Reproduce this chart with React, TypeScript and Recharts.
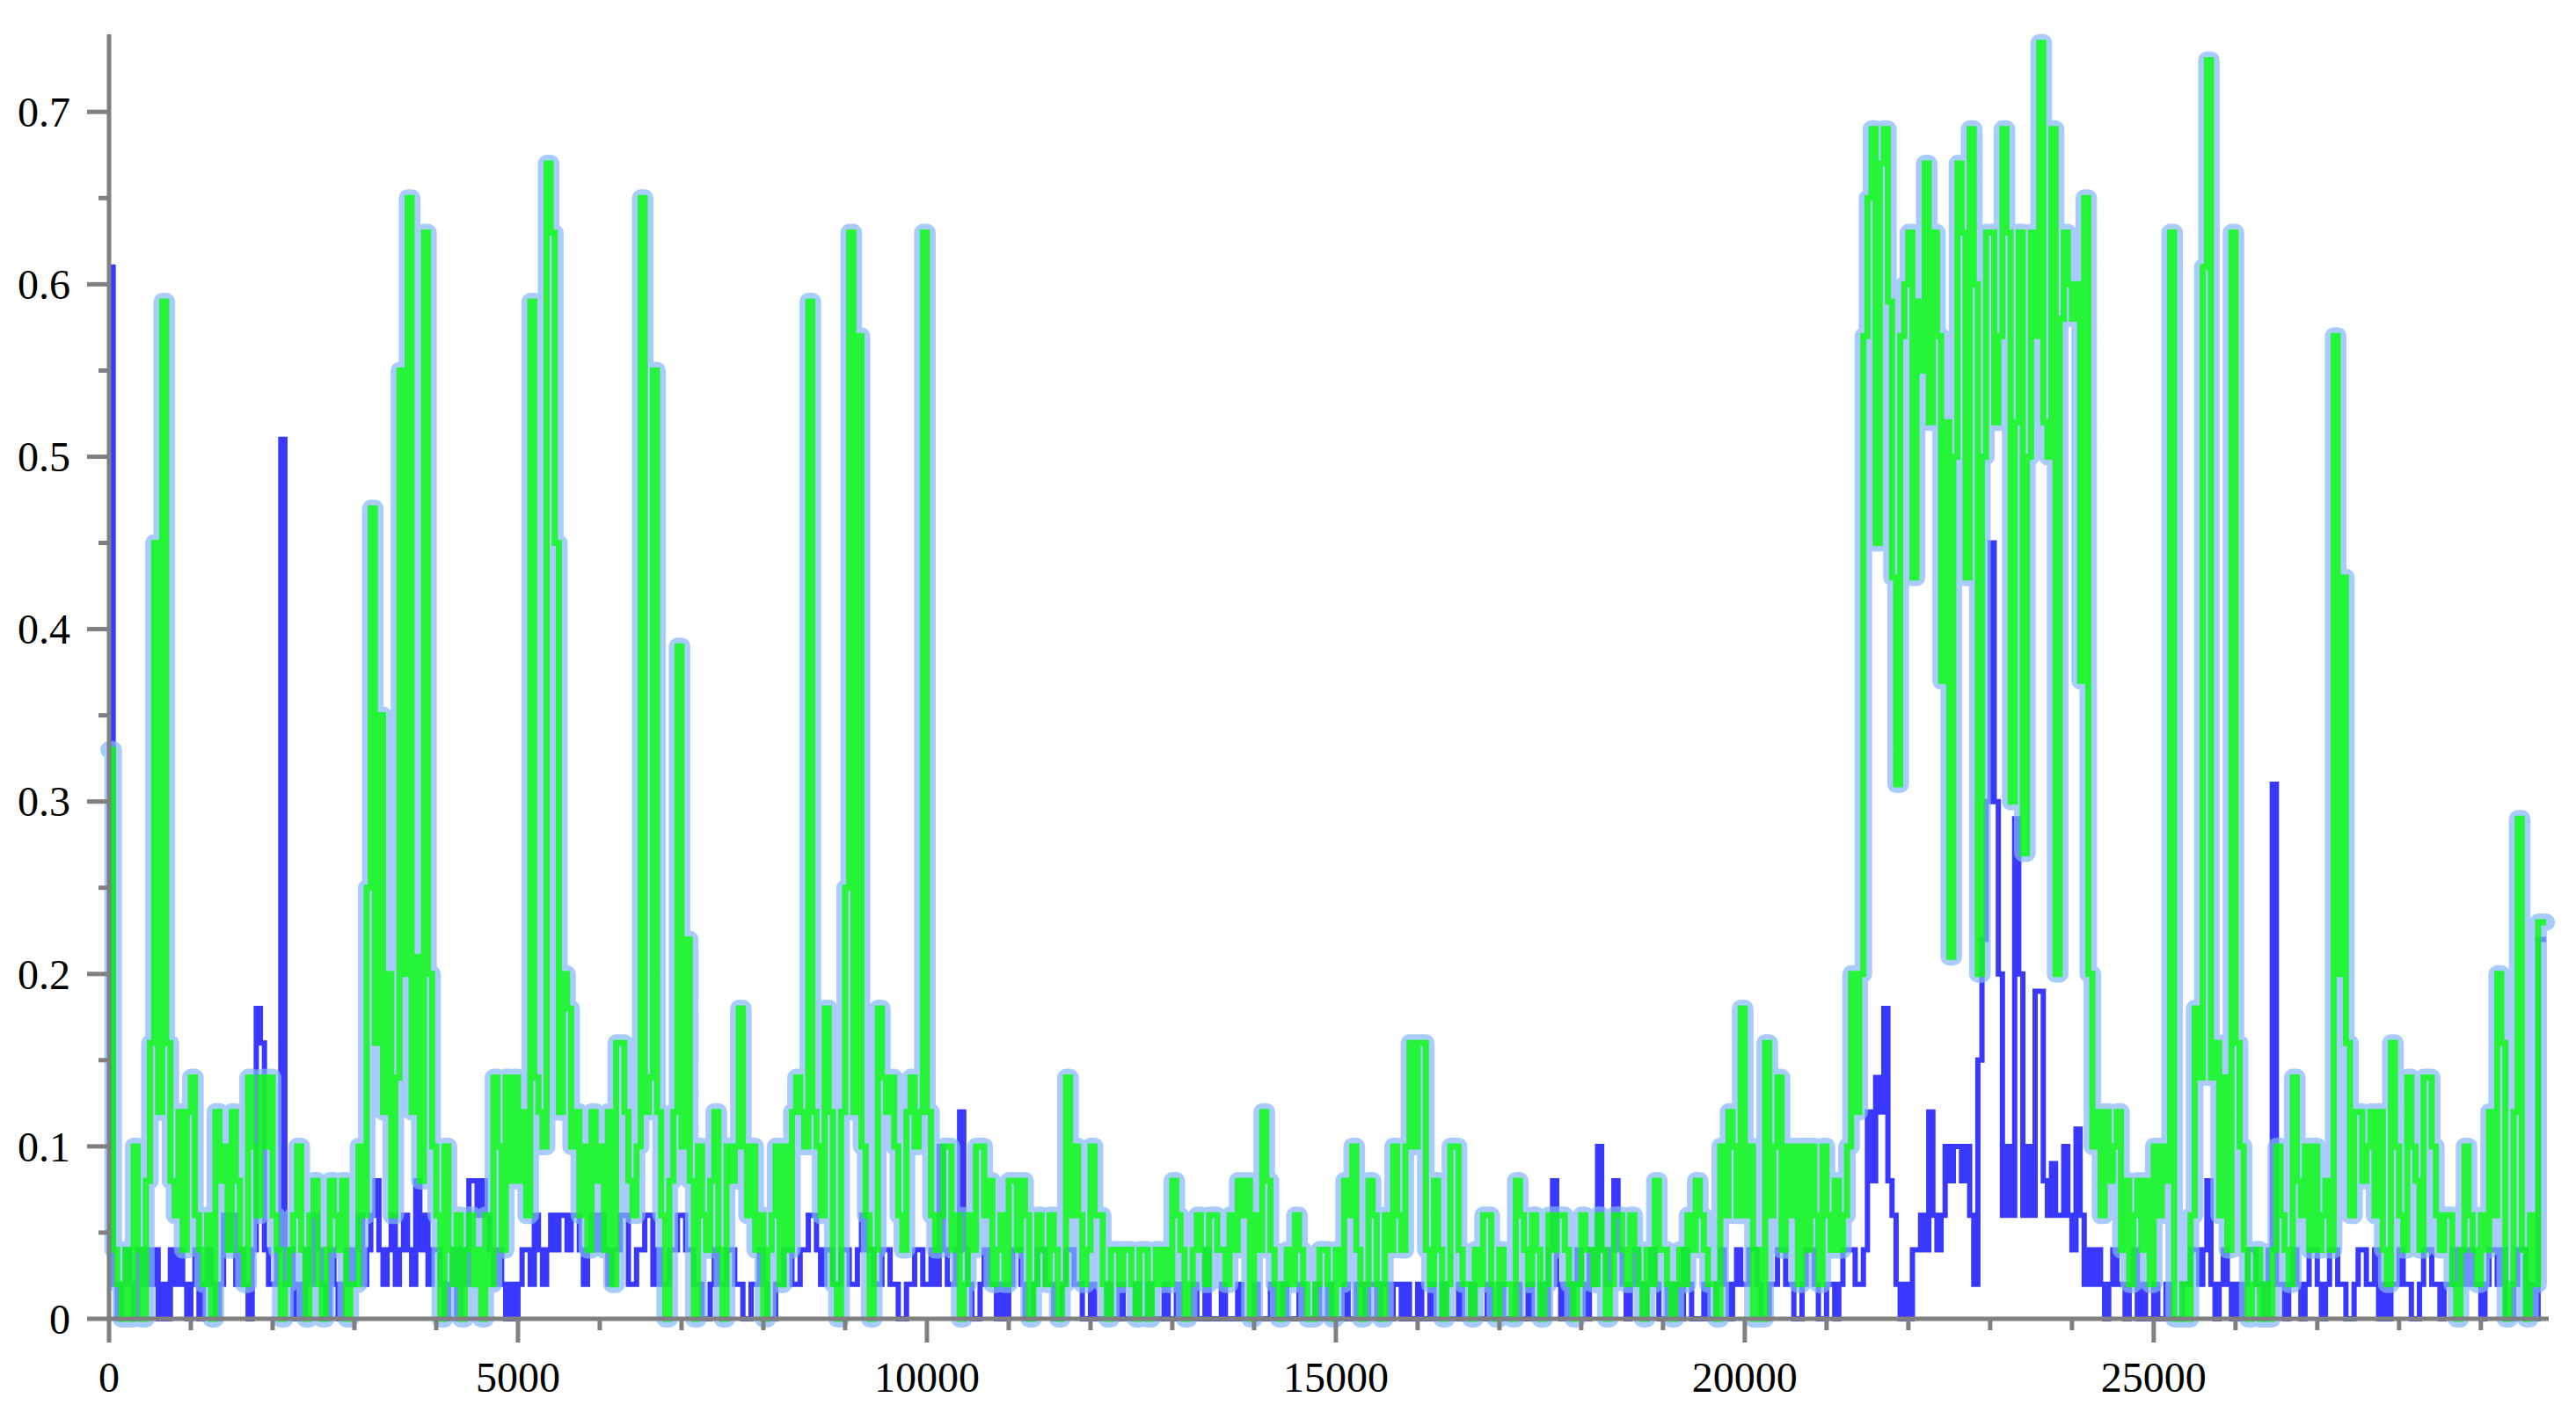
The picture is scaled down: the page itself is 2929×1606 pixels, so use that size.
import React from "react";
import { LineChart, Line, XAxis, YAxis } from "recharts";

// one value per 50 units of x; each line is one block of 1000 units
const X_STEP = 50;

const GREEN = [
  0.33, 0.04, 0.02, 0, 0.04, 0, 0.1, 0.04, 0, 0.08, 0.16, 0.45, 0.12, 0.59, 0.16, 0.08, 0.06, 0.12, 0.04, 0.12,
  0.14, 0.06, 0.04, 0.02, 0.06, 0, 0.12, 0.08, 0.1, 0.04, 0.12, 0.08, 0.04, 0.02, 0.14, 0.1, 0.06, 0.14, 0.1, 0.14,
  0.06, 0.04, 0, 0.02, 0.04, 0.06, 0.1, 0.04, 0, 0.06, 0.08, 0.02, 0, 0.04, 0.08, 0.06, 0.04, 0.08, 0, 0.02,
  0.02, 0.1, 0.06, 0.25, 0.47, 0.16, 0.35, 0.12, 0.2, 0.06, 0.14, 0.55, 0.2, 0.65, 0.12, 0.21, 0.08, 0.63, 0.2, 0.1,
  0.06, 0, 0.1, 0.04, 0.02, 0.06, 0, 0.04, 0.06, 0.02, 0.04, 0, 0.06, 0.02, 0.14, 0.1, 0.04, 0.14, 0.08, 0.14,
  0.08, 0.12, 0.06, 0.59, 0.14, 0.12, 0.1, 0.67, 0.63, 0.45, 0.12, 0.2, 0.18, 0.1, 0.12, 0.06, 0.1, 0.04, 0.12, 0.08,
  0.1, 0.04, 0.12, 0.02, 0.16, 0.16, 0.12, 0.08, 0.06, 0.1, 0.65, 0.12, 0.14, 0.55, 0.12, 0.06, 0, 0.08, 0.12, 0.39,
  0.1, 0.22, 0.08, 0, 0.1, 0.06, 0.04, 0.08, 0.12, 0.04, 0, 0.1, 0.08, 0.1, 0.18, 0.1, 0.06, 0.1, 0.04, 0.06,
  0, 0.04, 0.06, 0.1, 0.02, 0.1, 0.04, 0.12, 0.14, 0.12, 0.1, 0.59, 0.12, 0.1, 0.06, 0.18, 0.12, 0.02, 0, 0.12,
  0.25, 0.63, 0.12, 0.57, 0.1, 0.06, 0, 0.04, 0.18, 0.14, 0.12, 0.14, 0.1, 0.06, 0.04, 0.12, 0.14, 0.1, 0.12, 0.63,
  0.12, 0.06, 0.04, 0.06, 0.1, 0.1, 0.04, 0.06, 0, 0.02, 0.06, 0.04, 0.1, 0.1, 0.06, 0.08, 0.02, 0.04, 0.06, 0.02,
  0.08, 0.08, 0.04, 0.08, 0.06, 0, 0.02, 0.06, 0.04, 0.02, 0.06, 0.04, 0, 0.02, 0.14, 0.06, 0.1, 0.06, 0.02, 0.04,
  0.1, 0.06, 0.06, 0.02, 0, 0.04, 0.04, 0.02, 0.04, 0.04, 0.02, 0, 0.04, 0.04, 0, 0.02, 0.04, 0.02, 0.04, 0.02,
  0.08, 0.06, 0.04, 0, 0.02, 0.04, 0.06, 0.04, 0.02, 0.06, 0.06, 0.04, 0.04, 0.02, 0.06, 0.04, 0.08, 0.06, 0.08, 0,
  0.06, 0.04, 0.12, 0.08, 0.04, 0.02, 0, 0.02, 0.04, 0.02, 0.06, 0.04, 0.02, 0, 0, 0.02, 0.04, 0.04, 0.02, 0,
  0.04, 0.02, 0.08, 0.06, 0.1, 0.04, 0, 0.02, 0.08, 0.06, 0.02, 0, 0.06, 0.04, 0.1, 0.06, 0.04, 0.1, 0.16, 0.1,
  0.16, 0.16, 0.04, 0.02, 0.08, 0.04, 0, 0.02, 0.1, 0.1, 0.04, 0.02, 0.02, 0, 0.04, 0.02, 0.06, 0.06, 0.02, 0,
  0.04, 0.02, 0.02, 0, 0.08, 0.06, 0.04, 0.02, 0.06, 0.04, 0, 0.02, 0.06, 0.04, 0.06, 0.06, 0.04, 0.02, 0, 0.02,
  0.06, 0.04, 0.04, 0.02, 0.06, 0.04, 0, 0.02, 0.06, 0.06, 0.04, 0.02, 0.06, 0.04, 0.02, 0, 0.04, 0.02, 0.08, 0.04,
  0.04, 0.02, 0, 0.02, 0.04, 0.02, 0.06, 0.04, 0.08, 0.06, 0.04, 0.02, 0.02, 0, 0.1, 0.06, 0.12, 0.1, 0.06, 0.18,
  0.06, 0.1, 0, 0.04, 0, 0.16, 0.06, 0.1, 0.14, 0.04, 0.1, 0.06, 0.1, 0.02, 0.1, 0.04, 0.1, 0.06, 0.02, 0.1,
  0.06, 0.04, 0.08, 0.04, 0.06, 0.1, 0.2, 0.12, 0.2, 0.57, 0.65, 0.69, 0.45, 0.67, 0.69, 0.59, 0.43, 0.31, 0.57, 0.6,
  0.63, 0.43, 0.59, 0.55, 0.67, 0.52, 0.63, 0.57, 0.37, 0.52, 0.21, 0.5, 0.67, 0.63, 0.43, 0.69, 0.6, 0.2, 0.5, 0.63,
  0.63, 0.52, 0.57, 0.69, 0.63, 0.3, 0.52, 0.63, 0.27, 0.5, 0.63, 0.57, 0.74, 0.52, 0.5, 0.69, 0.2, 0.58, 0.63, 0.6,
  0.58, 0.6, 0.37, 0.65, 0.2, 0.1, 0.12, 0.06, 0.12, 0.08, 0.1, 0.12, 0.04, 0.08, 0.02, 0.06, 0.08, 0.04, 0.08, 0.02,
  0.1, 0.06, 0.1, 0.08, 0.63, 0, 0, 0.02, 0, 0.06, 0.18, 0.14, 0.61, 0.73, 0.14, 0.16, 0.06, 0.14, 0.04, 0.63,
  0.16, 0.1, 0.04, 0, 0.02, 0.04, 0, 0.02, 0, 0.04, 0.1, 0.06, 0.04, 0.02, 0.14, 0.08, 0.06, 0.1, 0.04, 0.1,
  0.04, 0.06, 0.08, 0.04, 0.57, 0.2, 0.43, 0.16, 0.06, 0.12, 0.12, 0.08, 0.1, 0.12, 0.06, 0.12, 0.04, 0.02, 0.16, 0.1,
  0.06, 0.04, 0.14, 0.1, 0.08, 0.04, 0.14, 0.14, 0.1, 0.06, 0.04, 0.06, 0.06, 0.02, 0, 0.04, 0.1, 0.06, 0.04, 0.02,
  0.06, 0.04, 0.12, 0.06, 0.2, 0.16, 0, 0.02, 0.12, 0.29, 0.04, 0, 0.06, 0.02, 0.23, 0.23, 0.23,
];

const BLUE = [
  0.61, 0.02, 0, 0.02, 0.04, 0.02, 0, 0.04, 0.02, 0.04, 0.02, 0.04, 0, 0.02, 0, 0.04, 0.02, 0.04, 0.02, 0,
  0.02, 0.04, 0, 0.02, 0.04, 0.02, 0, 0.02, 0.06, 0.04, 0.06, 0.02, 0.04, 0.02, 0, 0.04, 0.18, 0.16, 0.04, 0.02,
  0.02, 0.04, 0.51, 0.02, 0.04, 0, 0.02, 0, 0.04, 0.02, 0.06, 0.04, 0.02, 0, 0.04, 0.02, 0, 0.02, 0.04, 0.02,
  0.04, 0.06, 0.02, 0.04, 0.06, 0.08, 0.04, 0.02, 0.04, 0.06, 0.02, 0.04, 0.06, 0.04, 0.02, 0.08, 0.04, 0.06, 0.02, 0.04,
  0.04, 0.02, 0, 0.02, 0.04, 0, 0.04, 0.02, 0.08, 0.08, 0.06, 0.08, 0.06, 0.04, 0.02, 0.04, 0.02, 0, 0.02, 0,
  0.02, 0.04, 0.04, 0.02, 0.06, 0.04, 0.02, 0.04, 0.06, 0.04, 0.06, 0.06, 0.04, 0.06, 0.06, 0.04, 0.02, 0.04, 0.06, 0.04,
  0.06, 0.04, 0.02, 0.04, 0.04, 0.06, 0.06, 0.02, 0.02, 0.04, 0.04, 0.06, 0.06, 0.02, 0.04, 0.02, 0.02, 0.04, 0.04, 0.06,
  0.06, 0.04, 0.04, 0.02, 0.02, 0, 0, 0.02, 0.04, 0.02, 0.02, 0.04, 0.04, 0.02, 0.02, 0, 0, 0.02, 0.02, 0.04,
  0.02, 0, 0, 0.02, 0.02, 0.04, 0.04, 0.02, 0.02, 0.04, 0.04, 0.06, 0.06, 0.04, 0.02, 0.04, 0.04, 0.02, 0.02, 0.04,
  0.04, 0.02, 0.02, 0.04, 0.06, 0.04, 0.04, 0.02, 0.02, 0.04, 0.04, 0.02, 0.02, 0, 0, 0.02, 0.02, 0.04, 0.04, 0.02,
  0.02, 0.04, 0.02, 0.1, 0.04, 0.02, 0.02, 0.04, 0.12, 0.04, 0.02, 0, 0, 0.02, 0.04, 0.02, 0.02, 0, 0.02, 0,
  0.02, 0.04, 0.04, 0.02, 0, 0, 0.02, 0.04, 0.04, 0.02, 0.02, 0, 0, 0.02, 0.04, 0.04, 0.02, 0.02, 0, 0,
  0.02, 0, 0, 0, 0.02, 0, 0, 0.02, 0, 0, 0, 0.02, 0, 0, 0.02, 0, 0, 0, 0.02, 0,
  0, 0.02, 0, 0, 0, 0.02, 0, 0, 0.04, 0, 0, 0, 0.02, 0, 0, 0, 0.02, 0, 0, 0,
  0.02, 0, 0, 0, 0.02, 0, 0, 0.02, 0, 0, 0, 0.02, 0, 0, 0, 0.02, 0, 0, 0.02, 0,
  0, 0, 0.02, 0, 0, 0.02, 0.02, 0, 0.02, 0.02, 0, 0.02, 0.02, 0, 0.02, 0.02, 0, 0.02, 0, 0,
  0.02, 0, 0, 0.02, 0, 0, 0.02, 0, 0, 0, 0.02, 0, 0, 0.02, 0, 0, 0, 0.02, 0, 0,
  0.02, 0, 0, 0, 0.02, 0, 0, 0.02, 0, 0, 0.02, 0, 0.04, 0.08, 0.02, 0, 0.02, 0, 0.02, 0.04,
  0.02, 0, 0.04, 0.02, 0.1, 0.04, 0.02, 0.04, 0.08, 0.04, 0.02, 0, 0.02, 0.04, 0.02, 0, 0.02, 0.04, 0.02, 0,
  0, 0.02, 0, 0.02, 0, 0.04, 0.02, 0, 0, 0, 0.02, 0, 0, 0.02, 0.04, 0.02, 0, 0.02, 0.04, 0.02,
  0.02, 0.04, 0.04, 0.02, 0, 0, 0.02, 0.02, 0.04, 0.04, 0.02, 0.02, 0, 0, 0.02, 0.04, 0.04, 0.02, 0, 0,
  0.02, 0.02, 0, 0.02, 0.04, 0.04, 0.04, 0.02, 0.02, 0.04, 0.12, 0.08, 0.14, 0.12, 0.18, 0.08, 0.06, 0.02, 0, 0.02,
  0, 0.04, 0.04, 0.06, 0.04, 0.12, 0.06, 0.04, 0.06, 0.1, 0.08, 0.1, 0.1, 0.08, 0.1, 0.06, 0.02, 0.15, 0.22, 0.3,
  0.45, 0.3, 0.2, 0.06, 0.1, 0.06, 0.29, 0.2, 0.06, 0.1, 0.06, 0.19, 0.19, 0.08, 0.06, 0.09, 0.06, 0.06, 0.1, 0.06,
  0.04, 0.11, 0.06, 0.02, 0.04, 0.02, 0.04, 0.02, 0, 0.02, 0.04, 0.02, 0.02, 0, 0.02, 0.04, 0, 0.02, 0, 0,
  0.02, 0, 0, 0.02, 0, 0, 0, 0.02, 0.02, 0.04, 0.04, 0.02, 0.04, 0.08, 0.02, 0, 0.02, 0.04, 0.02, 0,
  0.02, 0, 0.02, 0.04, 0.04, 0.02, 0.02, 0, 0.04, 0.31, 0.02, 0.02, 0, 0.02, 0.04, 0.02, 0, 0.02, 0.04, 0.04,
  0.02, 0, 0.02, 0.04, 0.04, 0.02, 0.02, 0, 0, 0.02, 0.04, 0.04, 0.02, 0.02, 0.04, 0, 0.02, 0, 0.02, 0.02,
  0.04, 0.02, 0.02, 0, 0, 0.02, 0.04, 0.04, 0.02, 0.02, 0, 0.02, 0.02, 0.04, 0.02, 0.04, 0.02, 0.04, 0.02, 0.02,
  0, 0.02, 0.04, 0.04, 0.02, 0.04, 0, 0, 0.02, 0.04, 0.04, 0, 0.02, 0, 0.22, 0.22, 0.22,
];

const X_TICKS = [
  0, 1000, 2000, 3000, 4000, 5000, 6000, 7000, 8000, 9000,
  10000, 11000, 12000, 13000, 14000, 15000, 16000, 17000, 18000, 19000,
  20000, 21000, 22000, 23000, 24000, 25000, 26000, 27000, 28000, 29000,
];
const Y_TICKS = [0, 0.05, 0.1, 0.15, 0.2, 0.25, 0.3, 0.35, 0.4, 0.45, 0.5, 0.55, 0.6, 0.65, 0.7];

const AXIS_GREY = "#808080";
const FONT = "'Liberation Serif', 'Times New Roman', serif";

const rows = GREEN.map((g, i) => ({ x: i * X_STEP, g, b: BLUE[i] }));

// eslint-disable-next-line @typescript-eslint/no-explicit-any
type Any = any;

function XTick({ x, y, payload }: Any) {
  const v = payload.value as number;
  const major = v % 5000 === 0;
  return (
    <g>
      <line x1={x} x2={x} y1={y} y2={y + (major ? 27 : 13)} stroke={AXIS_GREY} strokeWidth={5} />
      {major && (
        <text x={x} y={y + 83} textAnchor="middle" fontFamily={FONT} fontSize={48} fill="#000">
          {v}
        </text>
      )}
    </g>
  );
}

function YTick({ x, y, payload }: Any) {
  const v = payload.value as number;
  const major = Math.round(v * 100) % 10 === 0;
  return (
    <g>
      <line x1={x - (major ? 25 : 12)} x2={x} y1={y} y2={y} stroke={AXIS_GREY} strokeWidth={5} />
      {major && (
        <text x={x - 44} y={y} dy="0.35em" textAnchor="end" fontFamily={FONT} fontSize={48} fill="#000">
          {v === 0 ? "0" : v.toFixed(1)}
        </text>
      )}
    </g>
  );
}

export default function App() {
  return (
    <div style={{ position: "absolute", left: 0, top: 0, width: 2929, height: 1606, background: "#fff" }}>
      <LineChart width={2929} height={1606} data={rows} margin={{ top: 39, right: 31, left: 0, bottom: 0 }}>
        <XAxis
          dataKey="x" type="number" domain={[0, 29830]} ticks={X_TICKS} interval={0}
          tick={<XTick />} tickLine={false} tickSize={0} tickMargin={0} height={106}
          axisLine={{ stroke: AXIS_GREY, strokeWidth: 5 }}
        />
        <YAxis
          type="number" domain={[0, 0.745]} ticks={Y_TICKS} interval={0}
          tick={<YTick />} tickLine={false} tickSize={0} tickMargin={0} width={124}
          axisLine={{ stroke: AXIS_GREY, strokeWidth: 5 }}
        />
        <Line type="stepAfter" dataKey="b" stroke="#0000ff" strokeOpacity={0.78} strokeWidth={6}
          dot={false} activeDot={false} isAnimationActive={false} />
        <Line type="stepAfter" dataKey="g" stroke="#84b7ff" strokeOpacity={0.7} strokeWidth={20}
          strokeLinecap="round" strokeLinejoin="round" dot={false} activeDot={false} isAnimationActive={false} />
        <Line type="stepAfter" dataKey="g" stroke="#00ff00" strokeOpacity={0.78} strokeWidth={7}
          dot={false} activeDot={false} isAnimationActive={false} />
      </LineChart>
    </div>
  );
}
